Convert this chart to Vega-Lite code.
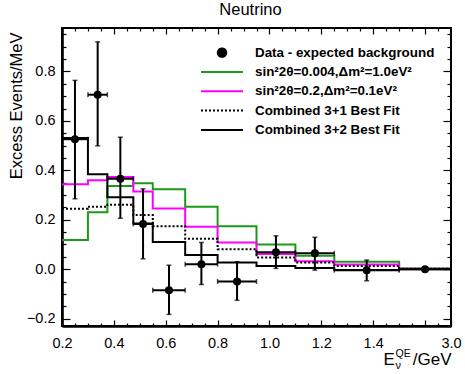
{
  "$schema": "https://vega.github.io/schema/vega-lite/v6.json",
  "autosize": "none",
  "width": 389,
  "height": 298,
  "padding": {"left": 62, "top": 28, "right": 14, "bottom": 48},
  "background": "white",
  "config": {
    "font": "Liberation Sans",
    "view": {"stroke": "black", "strokeWidth": 2},
    "axis": {"grid": false, "ticks": true, "zindex": 2, "labelColor": "black", "titleColor": "black", "tickColor": "black", "domainColor": "black", "labelFont": "Liberation Sans", "titleFont": "Liberation Sans", "titleFontWeight": "normal", "tickWidth": 1.2, "tickOpacity": 1}
  },
  "title": {"text": "Neutrino", "fontSize": 16.5, "fontWeight": "normal", "font": "Liberation Sans", "color": "black", "anchor": "middle", "offset": 9, "dx": -6},
  "datasets": {
    "hist": [
      {"series": "sin²2θ=0.004,Δm²=1.0eV²", "e": 0.2, "v": 0.118},
      {"series": "sin²2θ=0.004,Δm²=1.0eV²", "e": 0.3, "v": 0.230},
      {"series": "sin²2θ=0.004,Δm²=1.0eV²", "e": 0.375, "v": 0.337},
      {"series": "sin²2θ=0.004,Δm²=1.0eV²", "e": 0.475, "v": 0.348},
      {"series": "sin²2θ=0.004,Δm²=1.0eV²", "e": 0.55, "v": 0.323},
      {"series": "sin²2θ=0.004,Δm²=1.0eV²", "e": 0.675, "v": 0.253},
      {"series": "sin²2θ=0.004,Δm²=1.0eV²", "e": 0.8, "v": 0.174},
      {"series": "sin²2θ=0.004,Δm²=1.0eV²", "e": 0.95, "v": 0.100},
      {"series": "sin²2θ=0.004,Δm²=1.0eV²", "e": 1.1, "v": 0.054},
      {"series": "sin²2θ=0.004,Δm²=1.0eV²", "e": 1.25, "v": 0.030},
      {"series": "sin²2θ=0.004,Δm²=1.0eV²", "e": 1.5, "v": 0.003},
      {"series": "sin²2θ=0.004,Δm²=1.0eV²", "e": 1.7, "v": 0.003},
      {"series": "sin²2θ=0.2,Δm²=0.1eV²", "e": 0.2, "v": 0.344},
      {"series": "sin²2θ=0.2,Δm²=0.1eV²", "e": 0.3, "v": 0.360},
      {"series": "sin²2θ=0.2,Δm²=0.1eV²", "e": 0.375, "v": 0.373},
      {"series": "sin²2θ=0.2,Δm²=0.1eV²", "e": 0.475, "v": 0.314},
      {"series": "sin²2θ=0.2,Δm²=0.1eV²", "e": 0.55, "v": 0.246},
      {"series": "sin²2θ=0.2,Δm²=0.1eV²", "e": 0.675, "v": 0.172},
      {"series": "sin²2θ=0.2,Δm²=0.1eV²", "e": 0.8, "v": 0.108},
      {"series": "sin²2θ=0.2,Δm²=0.1eV²", "e": 0.95, "v": 0.061},
      {"series": "sin²2θ=0.2,Δm²=0.1eV²", "e": 1.1, "v": 0.032},
      {"series": "sin²2θ=0.2,Δm²=0.1eV²", "e": 1.25, "v": 0.019},
      {"series": "sin²2θ=0.2,Δm²=0.1eV²", "e": 1.5, "v": 0.002},
      {"series": "sin²2θ=0.2,Δm²=0.1eV²", "e": 1.7, "v": 0.002},
      {"series": "Combined 3+1 Best Fit", "e": 0.2, "v": 0.245},
      {"series": "Combined 3+1 Best Fit", "e": 0.3, "v": 0.253},
      {"series": "Combined 3+1 Best Fit", "e": 0.375, "v": 0.261},
      {"series": "Combined 3+1 Best Fit", "e": 0.475, "v": 0.219},
      {"series": "Combined 3+1 Best Fit", "e": 0.55, "v": 0.174},
      {"series": "Combined 3+1 Best Fit", "e": 0.675, "v": 0.123},
      {"series": "Combined 3+1 Best Fit", "e": 0.8, "v": 0.081},
      {"series": "Combined 3+1 Best Fit", "e": 0.95, "v": 0.047},
      {"series": "Combined 3+1 Best Fit", "e": 1.1, "v": 0.027},
      {"series": "Combined 3+1 Best Fit", "e": 1.25, "v": 0.013},
      {"series": "Combined 3+1 Best Fit", "e": 1.5, "v": 0.002},
      {"series": "Combined 3+1 Best Fit", "e": 1.7, "v": 0.002},
      {"series": "Combined 3+2 Best Fit", "e": 0.2, "v": 0.531},
      {"series": "Combined 3+2 Best Fit", "e": 0.3, "v": 0.384},
      {"series": "Combined 3+2 Best Fit", "e": 0.375, "v": 0.291},
      {"series": "Combined 3+2 Best Fit", "e": 0.475, "v": 0.185},
      {"series": "Combined 3+2 Best Fit", "e": 0.55, "v": 0.110},
      {"series": "Combined 3+2 Best Fit", "e": 0.675, "v": 0.057},
      {"series": "Combined 3+2 Best Fit", "e": 0.8, "v": 0.027},
      {"series": "Combined 3+2 Best Fit", "e": 0.95, "v": 0.013},
      {"series": "Combined 3+2 Best Fit", "e": 1.1, "v": 0.005},
      {"series": "Combined 3+2 Best Fit", "e": 1.25, "v": -0.003},
      {"series": "Combined 3+2 Best Fit", "e": 1.5, "v": 0.0},
      {"series": "Combined 3+2 Best Fit", "e": 1.7, "v": 0.0}
    ],
    "pts": [
      {"x": 0.25, "xlo": 0.2, "xhi": 0.3, "y": 0.526, "ylo": 0.285, "yhi": 0.764},
      {"x": 0.3375, "xlo": 0.3, "xhi": 0.375, "y": 0.706, "ylo": 0.499, "yhi": 0.92},
      {"x": 0.425, "xlo": 0.375, "xhi": 0.475, "y": 0.366, "ylo": 0.206, "yhi": 0.534},
      {"x": 0.5125, "xlo": 0.475, "xhi": 0.55, "y": 0.183, "ylo": 0.042, "yhi": 0.325},
      {"x": 0.6125, "xlo": 0.55, "xhi": 0.675, "y": -0.085, "ylo": -0.183, "yhi": 0.016},
      {"x": 0.7375, "xlo": 0.675, "xhi": 0.8, "y": 0.020, "ylo": -0.062, "yhi": 0.108},
      {"x": 0.875, "xlo": 0.8, "xhi": 0.95, "y": -0.050, "ylo": -0.126, "yhi": 0.030},
      {"x": 1.025, "xlo": 0.95, "xhi": 1.1, "y": 0.068, "ylo": 0.003, "yhi": 0.135},
      {"x": 1.175, "xlo": 1.1, "xhi": 1.25, "y": 0.064, "ylo": -0.004, "yhi": 0.129},
      {"x": 1.375, "xlo": 1.25, "xhi": 1.5, "y": -0.004, "ylo": -0.047, "yhi": 0.037},
      {"x": 1.6, "xlo": 1.5, "xhi": 1.7, "y": 0.0, "ylo": -0.004, "yhi": 0.004}
    ]
  },
  "resolve": {"scale": {"x": "shared", "y": "shared"}, "axis": {"x": "independent", "y": "independent"}},
  "layer": [
    {
      "data": {"name": "hist"},
      "mark": {"type": "line", "interpolate": "step-after", "strokeWidth": 2},
      "encoding": {
        "x": {"field": "e", "type": "quantitative", "scale": {"domain": [0.2, 1.7], "nice": false, "zero": false},
          "axis": {"orient": "bottom", "offset": -6, "values": [0.2, 0.4, 0.6, 0.8, 1.0, 1.2, 1.4, 1.6, 1.7], "labelExpr": "datum.value > 1.65 ? '3.0' : (datum.value > 1.5 ? '' : format(datum.value, '.1f'))", "labelFontSize": 14.5, "labelFlush": false, "labelOverlap": false, "ticks": true, "tickSize": 6, "labelPadding": 10, "domain": false, "title": "E", "titleFontSize": 17, "titleX": 321, "titleY": 44, "titleAlign": "left", "titleBaseline": "alphabetic"}},
        "y": {"field": "v", "type": "quantitative", "scale": {"domain": [-0.23, 0.976], "nice": false, "zero": false},
          "axis": {"orient": "left", "offset": -8, "values": [-0.2, 0.0, 0.2, 0.4, 0.6, 0.8], "format": ".1f", "labelFontSize": 14.5, "labelOverlap": false, "labelFlush": false, "ticks": true, "tickSize": 8, "labelPadding": 7, "domain": false, "title": "Excess Events/MeV", "titleFontSize": 16.5, "titleAngle": -90, "titleX": -49, "titleY": 4, "titleAlign": "right", "titleBaseline": "alphabetic"}},
        "color": {"field": "series", "type": "nominal",
          "scale": {"domain": ["Data - expected background", "sin²2θ=0.004,Δm²=1.0eV²", "sin²2θ=0.2,Δm²=0.1eV²", "Combined 3+1 Best Fit", "Combined 3+2 Best Fit"], "range": ["black", "#1a9a1a", "#ff00ff", "black", "black"]},
          "legend": {"orient": "none", "legendX": 138, "legendY": 18, "title": null, "padding": 0, "rowPadding": 4.3, "clipHeight": 13.4, "labelFontSize": 13.4, "labelFontWeight": "bold", "labelFont": "Liberation Sans", "labelColor": "black", "labelOffset": 11, "symbolType": "stroke", "symbolSize": 1764, "symbolStrokeWidth": 2, "labelLimit": 300,
            "encode": {"symbols": {"update": {
              "shape": {"signal": "datum.value == 'Data - expected background' ? 'M-0.2,0A0.2,0.2,0,1,0,0.2,0A0.2,0.2,0,1,0,-0.2,0Z' : 'stroke'"},
              "fill": {"signal": "datum.value == 'Data - expected background' ? 'black' : 'transparent'"},
              "stroke": {"scale": "color", "field": "value"},
              "strokeDash": {"signal": "datum.value == 'Combined 3+1 Best Fit' ? [2, 2] : [1, 0]"},
              "opacity": {"value": 1}
            }}}}},
        "strokeDash": {"field": "series", "type": "nominal", "legend": null,
          "scale": {"domain": ["sin²2θ=0.004,Δm²=1.0eV²", "sin²2θ=0.2,Δm²=0.1eV²", "Combined 3+1 Best Fit", "Combined 3+2 Best Fit"], "range": [[1, 0], [1, 0], [2, 2], [1, 0]]}}
      }
    },
    {
      "mark": {"type": "rule", "color": "black", "strokeWidth": 1},
      "encoding": {
        "x": {"datum": 0.2, "type": "quantitative", "axis": {"orient": "bottom", "offset": -3, "values": [0.25,0.3,0.35,0.45,0.5,0.55,0.65,0.7,0.75,0.85,0.9,0.95,1.05,1.1,1.15,1.25,1.3,1.35,1.45,1.5,1.55,1.65], "labels": false, "domain": false, "ticks": true, "tickSize": 3, "title": null}},
        "x2": {"datum": 1.7},
        "y": {"datum": 0, "type": "quantitative", "axis": {"orient": "left", "offset": -4, "values": [-0.15,-0.1,-0.05,0.05,0.1,0.15,0.25,0.3,0.35,0.45,0.5,0.55,0.65,0.7,0.75,0.85,0.9,0.95], "labels": false, "domain": false, "ticks": true, "tickSize": 4, "title": null}}
      }
    },
    {
      "data": {"name": "pts"},
      "mark": {"type": "rule", "color": "black", "strokeWidth": 2},
      "encoding": {
        "x": {"field": "x", "type": "quantitative", "axis": {"orient": "top", "offset": -6, "values": [0.4, 0.6, 0.8, 1.0, 1.2, 1.4, 1.6], "labels": false, "domain": false, "ticks": true, "tickSize": 6, "title": "QE", "titleFontSize": 10.5, "titleX": 333, "titleY": 322, "titleAlign": "left", "titleBaseline": "alphabetic"}},
        "y": {"field": "ylo", "type": "quantitative", "axis": {"orient": "right", "offset": -8, "values": [-0.2, 0.0, 0.2, 0.4, 0.6, 0.8], "labels": false, "domain": false, "ticks": true, "tickSize": 8, "title": null}},
        "y2": {"field": "yhi"}
      }
    },
    {
      "data": {"name": "pts"},
      "mark": {"type": "rule", "color": "black", "strokeWidth": 2},
      "encoding": {
        "x": {"field": "xlo", "type": "quantitative", "axis": {"orient": "top", "offset": -3, "values": [0.25,0.3,0.35,0.45,0.5,0.55,0.65,0.7,0.75,0.85,0.9,0.95,1.05,1.1,1.15,1.25,1.3,1.35,1.45,1.5,1.55,1.65], "labels": false, "domain": false, "ticks": true, "tickSize": 3, "title": "ν", "titleFontSize": 11, "titleX": 333, "titleY": 337, "titleAlign": "left", "titleBaseline": "alphabetic"}},
        "x2": {"field": "xhi"},
        "y": {"field": "y", "type": "quantitative", "axis": {"orient": "right", "offset": -4, "values": [-0.15,-0.1,-0.05,0.05,0.1,0.15,0.25,0.3,0.35,0.45,0.5,0.55,0.65,0.7,0.75,0.85,0.9,0.95], "labels": false, "domain": false, "ticks": true, "tickSize": 4, "title": null}}
      }
    },
    {
      "data": {"name": "pts"},
      "transform": [{"fold": ["ylo", "yhi"], "as": ["k", "yv"]}],
      "mark": {"type": "tick", "orient": "horizontal", "color": "black", "size": 5, "thickness": 1.5},
      "encoding": {
        "x": {"field": "x", "type": "quantitative", "axis": {"orient": "bottom", "offset": 0, "ticks": false, "labels": false, "domain": true, "domainWidth": 2.6, "title": "/GeV", "titleFontSize": 17, "titleX": 389, "titleY": 38, "titleAlign": "right", "titleBaseline": "alphabetic"}},
        "y": {"field": "yv", "type": "quantitative", "axis": null}
      }
    },
    {
      "data": {"name": "pts"},
      "transform": [{"fold": ["xlo", "xhi"], "as": ["k", "xv"]}],
      "mark": {"type": "tick", "orient": "vertical", "color": "black", "size": 5, "thickness": 1.5},
      "encoding": {
        "x": {"field": "xv", "type": "quantitative", "axis": null},
        "y": {"field": "y", "type": "quantitative", "axis": null}
      }
    },
    {
      "data": {"name": "pts"},
      "mark": {"type": "point", "filled": true, "shape": "circle", "size": 64, "color": "black", "opacity": 1},
      "encoding": {
        "x": {"field": "x", "type": "quantitative", "axis": null},
        "y": {"field": "y", "type": "quantitative", "axis": {"orient": "left", "offset": 0, "ticks": false, "labels": false, "domain": true, "domainWidth": 2.6, "title": null}}
      }
    }
  ]
}
